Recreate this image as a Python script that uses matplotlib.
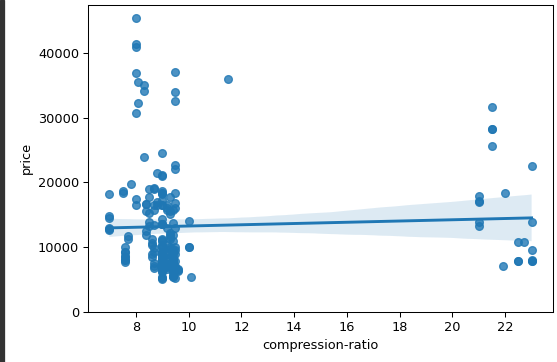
import matplotlib
matplotlib.use("Agg")
import matplotlib.pyplot as plt
import seaborn as sns
import pandas as pd
from matplotlib.patches import Rectangle

# compression ratio vs price, one entry per car
compression_ratio = [
    9.0, 9.0, 9.0, 10.0, 8.0, 8.5, 8.5, 8.5, 8.3,
    8.8, 8.8, 9.0, 9.0, 9.0, 8.0, 8.0, 8.0,
    9.5, 9.6, 9.6,
    9.4, 9.4, 7.6, 9.4, 9.4, 9.4, 7.6, 9.4, 7.0,
    9.6, 9.2, 10.1, 9.2, 9.2, 9.2, 9.2, 9.2, 9.2, 9.2, 9.2, 9.2, 9.0,
    8.7, 9.0,
    8.1, 8.1, 11.5,
    9.0, 9.0, 9.0, 9.0, 9.0, 9.4, 9.4, 9.4, 9.4, 8.6, 8.6, 8.6, 8.6, 22.7, 8.6, 9.0, 22.0,
    21.5, 21.5, 21.5, 21.5, 8.3, 8.3, 8.0, 8.0,
    8.0,
    9.4, 9.4, 9.4, 7.6, 7.6, 7.6, 7.0, 7.0, 7.0, 9.4, 9.4, 7.6, 7.6, 7.5, 7.5,
    9.4, 21.9, 9.4, 9.4, 9.4, 9.4, 9.4, 9.4, 9.4, 9.4, 9.5, 9.5, 9.0, 9.0, 9.0, 9.0, 7.8, 9.0,
    8.4, 21.0, 8.4, 21.0, 8.4, 21.0, 8.4, 21.0, 8.4, 21.0, 7.0,
    9.4, 7.6, 9.4, 9.4, 9.4, 7.0,
    9.5, 9.5, 9.5, 9.5,
    8.7, 8.7,
    9.3, 9.3, 9.3, 9.3, 9.0, 9.0,
    9.0, 8.7, 8.7, 9.5, 9.5, 9.5, 9.0, 7.7, 9.0, 9.0, 9.0, 7.7,
    9.0, 9.0, 9.0, 9.0, 9.0, 9.0, 9.0, 9.0, 22.5, 22.5, 9.0, 9.0, 9.0,
    9.4, 9.4, 9.4, 9.4, 9.3, 9.3, 9.3, 9.3, 9.3, 9.3, 9.0, 22.5, 9.0, 9.0, 9.0,
    9.2, 9.2, 9.2, 8.7,
    23.0, 9.0, 23.0, 9.0, 9.0, 23.0, 10.0, 23.0, 10.0, 8.5, 8.5, 23.0,
    9.5, 8.7, 9.5, 8.7, 9.5, 8.7, 9.5, 8.7, 8.8, 23.0, 9.5,
]
price = [
    13495, 16500, 16500, 13950, 17450, 15250, 17710, 18920, 23875,
    16430, 16925, 20970, 21105, 24565, 30760, 41315, 36880,
    5151, 6295, 6575,
    5572, 6377, 7957, 6229, 6692, 7609, 8558, 8921, 12964,
    6479, 6855, 5399, 6529, 7129, 7295, 7295, 7895, 9095, 8845, 10295, 12945, 10345,
    6785, 11048,
    32250, 35550, 36000,
    5195, 6095, 6795, 6695, 7395, 10945, 11845, 13645, 15645, 8845, 8495, 10595, 10245, 10795, 11245, 18280, 18344,
    25552, 28248, 28176, 31600, 34184, 35056, 40960, 45400,
    16503,
    5389, 6189, 6669, 7689, 9959, 8499, 12629, 14869, 14489, 6989, 8189, 9279, 9279, 18700, 18400,
    5499, 7099, 6649, 6849, 7349, 7299, 7799, 7499, 7999, 8249, 8949, 9549, 13499, 14399, 13499, 17199, 19699, 18399,
    11900, 13200, 12440, 13860, 15580, 16900, 16695, 17075, 16630, 17950, 18150,
    5572, 7957, 6229, 6692, 7609, 12764,
    22018, 32528, 34028, 37028,
    9295, 9895,
    11850, 12170, 15040, 15510, 18150, 18620,
    5118, 7053, 7603, 7126, 7775, 9960, 9233, 11259, 7463, 10198, 8013, 11694,
    5348, 6338, 6488, 6918, 7898, 8778, 6938, 7198, 7898, 7788, 7738, 8358, 9258,
    8058, 8238, 9298, 9538, 8449, 9639, 9989, 11199, 11549, 17669, 8948, 10698, 9988, 10898, 11248,
    16558, 15998, 15690, 15750,
    7775, 7975, 7995, 8195, 8495, 9495, 9995, 13900, 9980, 13295, 13845, 7850,
    12940, 13415, 15985, 16515, 18420, 18950, 16845, 19045, 21485, 22470, 22625,
]

df = pd.DataFrame({"compression-ratio": compression_ratio, "price": price})

dpi = 93
fig = plt.figure(figsize=(557 / dpi, 362 / dpi), dpi=dpi)
ax = fig.add_axes([0.1585, 0.139, 0.9923 - 0.1585, 0.9862 - 0.139])

sns.regplot(x="compression-ratio", y="price", data=df, ax=ax, seed=0)
ax.set_ylim(0,)

# dark strip along the left edge
fig.patches.append(Rectangle((0, 0), 4 / 557, 1, transform=fig.transFigure,
                             color="#333333", zorder=5))

fig.savefig("out.png", dpi=dpi)
